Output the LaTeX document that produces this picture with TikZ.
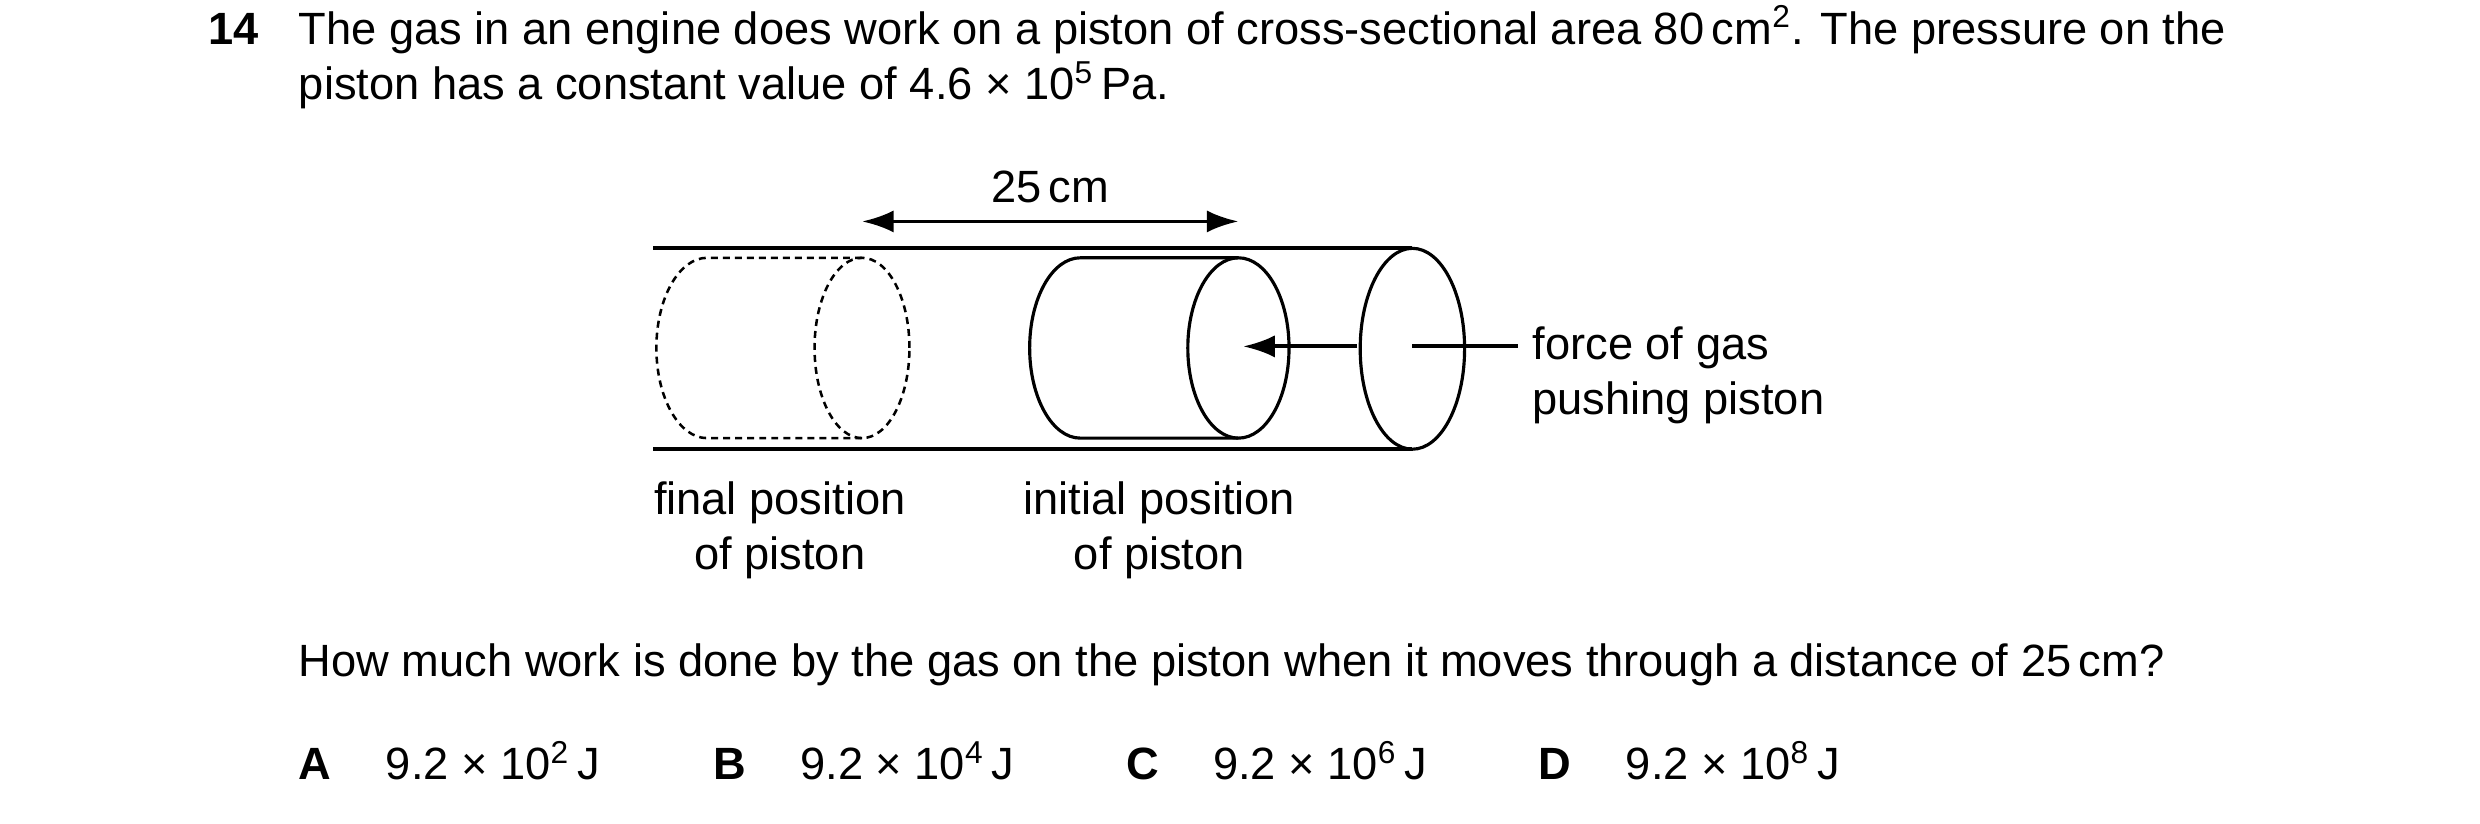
\documentclass[tikz,border=0pt]{standalone}
\usepackage{fontspec}
\setmainfont{Liberation Sans}
\usepackage{tikz}
\usetikzlibrary{arrows.meta}

\begin{document}
\begin{tikzpicture}[x = 0.5pt, y = -0.5pt, line width = 1pt,
                    txt/.style = {inner sep = 0pt, font = \fontsize{14.3}{17.5}\selectfont},
                    bold/.style = {txt, font = \fontsize{14.3}{17.5}\selectfont\bfseries},
                    tube/.style = {line width = 1.2pt},
                    ghost/.style = {dashed, dash pattern = on 2.2pt off 1.6pt, line width = 0.8pt},
                    push/.style = {-{Latex[length = 10pt, width = 7pt]}, line width = 1.2pt}]
      \useasboundingbox (0, 0) rectangle (1568, 520.4);

      % question text
      \node [bold, anchor = base west] (num) at (131, 28){14};
      \node [txt, anchor = base west] (q1) at (188, 28){The gas in an engine does work on a piston of cross-sectional area 80\,cm\textsuperscript{2}. The pressure on the};
      \node [txt, anchor = base west] (q2) at (188, 63){piston has a constant value of 4.6 × 10\textsuperscript{5}\,Pa.};

      % tube
      \coordinate (t1) at (413, 157);
      \coordinate (t2) at (893, 157);
      \coordinate (t3) at (413, 284);
      \coordinate (t4) at (893, 284);
      \draw [tube] (t1) -- (t2);
      \draw [tube] (t3) -- (t4);
      \draw (893, 220.5) ellipse [x radius = 16.5pt, y radius = 31.75pt];

      % final position (dashed)
      \draw [ghost] (545, 163) -- (447, 163) arc [start angle = 90, end angle = 270, x radius = 16pt, y radius = 28.5pt] -- (545, 277);
      \draw [ghost] (545, 220) ellipse [x radius = 15pt, y radius = 28.5pt];

      % initial position
      \draw (783, 163) -- (683, 163) arc [start angle = 90, end angle = 270, x radius = 16pt, y radius = 28.5pt] -- (783, 277);
      \draw (783, 220) ellipse [x radius = 16pt, y radius = 28.5pt];

      % force arrow
      \coordinate (f1) at (858, 219);
      \coordinate (f2) at (786, 219);
      \draw [push] (f1) -- (f2);
      \coordinate (g1) at (893, 219);
      \coordinate (g2) at (960, 219);
      \draw [line width = 1.2pt] (g1) -- (g2);
      \node [txt, anchor = base west] (force) at (968, 227){force of gas};
      \node [txt, anchor = base west] (force2) at (968, 262){pushing piston};

      % distance
      \coordinate (d1) at (545, 140);
      \coordinate (d2) at (783, 140);
      \draw [push, {Latex[length = 10pt, width = 7pt]}-{Latex[length = 10pt, width = 7pt]}] (d1) -- (d2);
      \node [txt, anchor = base] (dist) at (664, 128){25\,cm};

      \node [txt, anchor = base] (final) at (493, 325){final position};
      \node [txt, anchor = base] (final2) at (493, 360){of piston};
      \node [txt, anchor = base] (initial) at (733, 325){initial position};
      \node [txt, anchor = base] (initial2) at (733, 360){of piston};

      % question and options
      \node [txt, anchor = base west] (q3) at (188, 428){How much work is done by the gas on the piston when it moves through a distance of 25\,cm?};
      \node [bold, anchor = base west] (oa) at (188, 493){A};
      \node [txt, anchor = base west] (va) at (243, 493){9.2 × 10\textsuperscript{2}\,J};
      \node [bold, anchor = base west] (ob) at (450, 493){B};
      \node [txt, anchor = base west] (vb) at (505, 493){9.2 × 10\textsuperscript{4}\,J};
      \node [bold, anchor = base west] (oc) at (711, 493){C};
      \node [txt, anchor = base west] (vc) at (766, 493){9.2 × 10\textsuperscript{6}\,J};
      \node [bold, anchor = base west] (od) at (972, 493){D};
      \node [txt, anchor = base west] (vd) at (1027, 493){9.2 × 10\textsuperscript{8}\,J};
\end{tikzpicture}
\end{document}
